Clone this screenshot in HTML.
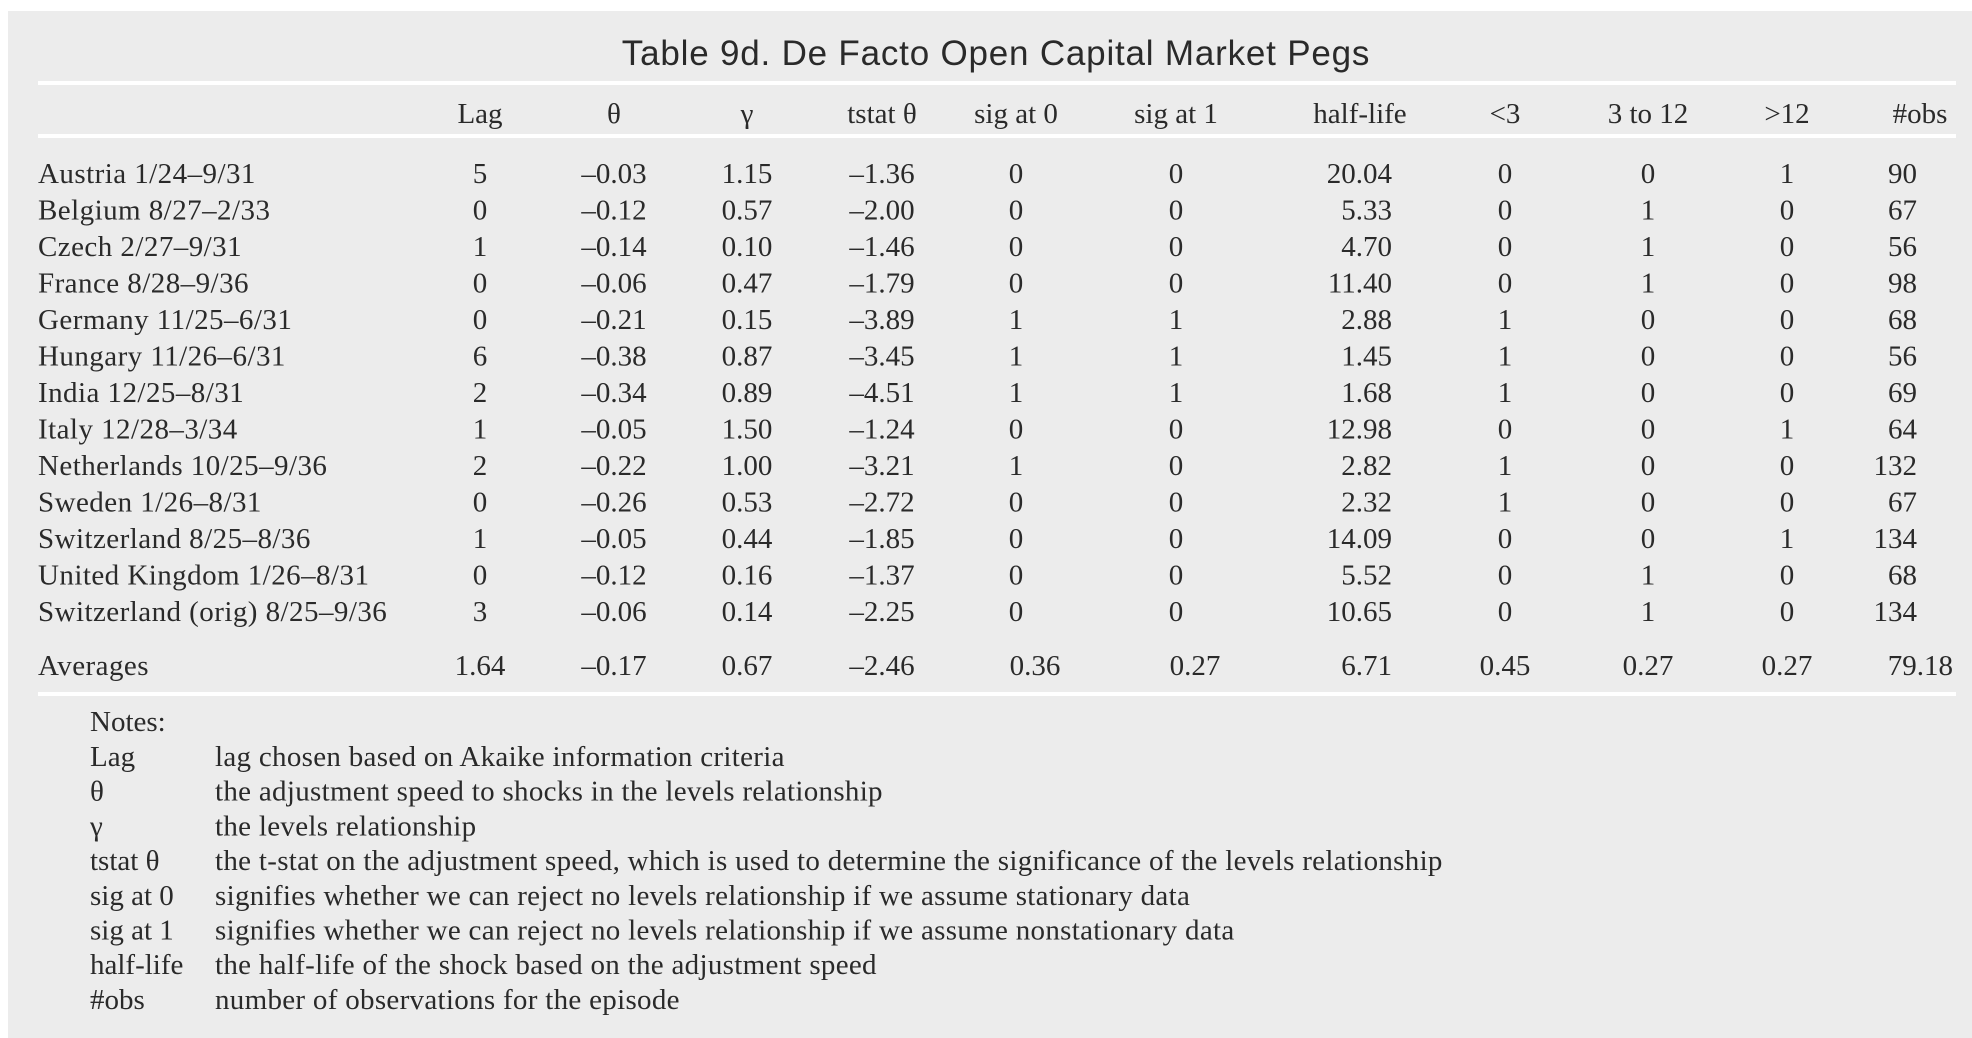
<!DOCTYPE html>
<html><head><meta charset="utf-8"><style>
html,body{margin:0;padding:0;background:#fff;}
svg{display:block;}
.s{font-family:"Liberation Serif",serif;font-size:29px;fill:#2a2a2a;}
.lab{letter-spacing:0.45px;}
.nt{letter-spacing:0.3px;}
.t{font-family:"Liberation Sans",sans-serif;font-size:35px;fill:#2a2a2a;letter-spacing:0.8px;}
</style></head><body>
<svg id="tbl" width="1972" height="1038" viewBox="0 0 1972 1038">
<rect x="8" y="11" width="1964" height="1027" fill="#ececec"/>
<text class="t" x="996" y="65" text-anchor="middle">Table 9d.  De Facto Open Capital Market Pegs</text>
<rect x="38" y="81" width="1918" height="4" fill="#fff"/>
<rect x="38" y="134" width="1918" height="4" fill="#fff"/>
<rect x="38" y="692" width="1918" height="4" fill="#fff"/>
<g id="body"></g>
</svg>
<script>
const headers=["Lag","θ","γ","tstat θ","sig at 0","sig at 1","half-life","<3","3 to 12",">12","#obs"];
const rowLabels=["Austria 1/24–9/31","Belgium 8/27–2/33","Czech 2/27–9/31","France 8/28–9/36","Germany 11/25–6/31","Hungary 11/26–6/31","India 12/25–8/31","Italy 12/28–3/34","Netherlands 10/25–9/36","Sweden 1/26–8/31","Switzerland 8/25–8/36","United Kingdom 1/26–8/31","Switzerland (orig) 8/25–9/36"];
const lag=["5","0","1","0","0","6","2","1","2","0","1","0","3"];
const theta=["–0.03","–0.12","–0.14","–0.06","–0.21","–0.38","–0.34","–0.05","–0.22","–0.26","–0.05","–0.12","–0.06"];
const gamma=["1.15","0.57","0.10","0.47","0.15","0.87","0.89","1.50","1.00","0.53","0.44","0.16","0.14"];
const tstat=["–1.36","–2.00","–1.46","–1.79","–3.89","–3.45","–4.51","–1.24","–3.21","–2.72","–1.85","–1.37","–2.25"];
const sig0=["0","0","0","0","1","1","1","0","1","0","0","0","0"];
const sig1=["0","0","0","0","1","1","1","0","0","0","0","0","0"];
const halfLife=["20.04","5.33","4.70","11.40","2.88","1.45","1.68","12.98","2.82","2.32","14.09","5.52","10.65"];
const lt3=["0","0","0","0","1","1","1","0","1","1","0","0","0"];
const mid=["0","1","1","1","0","0","0","0","0","0","0","1","1"];
const gt12=["1","0","0","0","0","0","0","1","0","0","1","0","0"];
const obs=["90","67","56","98","68","56","69","64","132","67","134","68","134"];
const averages=["1.64","–0.17","0.67","–2.46","0.36","0.27","6.71","0.45","0.27","0.27","79.18"];
const noteKeys=["Lag","θ","γ","tstat θ","sig at 0","sig at 1","half-life","#obs"];
const noteText=["lag chosen based on Akaike information criteria","the adjustment speed to shocks in the levels relationship","the levels relationship","the t-stat on the adjustment speed, which is used to determine the significance of the levels relationship","signifies whether we can reject no levels relationship if we assume stationary data","signifies whether we can reject no levels relationship if we assume nonstationary data","the half-life of the shock based on the adjustment speed","number of observations for the episode"];

const cols=[lag,theta,gamma,tstat,sig0,sig1,halfLife,lt3,mid,gt12,obs];
const colX=[480,614,747,882,1016,1176,1392,1505,1648,1787,1917];
const colAnchor=["middle","middle","middle","middle","middle","middle","end","middle","middle","middle","end"];
const headX=[480,614,747,882,1016,1176,1360,1505,1648,1787,1920];
const avgX=[480,614,747,882,1035,1195,1392,1505,1648,1787,1953];
const g=document.getElementById('body');
function txt(x,y,s,anchor,name,cls){
  const t=document.createElementNS('http://www.w3.org/2000/svg','text');
  t.setAttribute('x',x);t.setAttribute('y',y);t.setAttribute('class','s'+(cls?' '+cls:''));
  t.setAttribute('text-anchor',anchor);t.textContent=s;
  
  
  g.appendChild(t);return t;
}
const rowY=i=>183+i*36.5;
headers.forEach((h,j)=>txt(headX[j],123,h,"middle","column-header"));
rowLabels.forEach((r,i)=>{
  txt(38,rowY(i),r,"start","row-label","lab");
  cols.forEach((c,j)=>txt(colX[j],rowY(i),c[i],colAnchor[j],"table-cell"));
});
txt(38,675,"Averages","start","averages-label","lab");
averages.forEach((v,j)=>txt(avgX[j],675,v,j===6||j===10?"end":"middle","average-cell"));
txt(90,731,"Notes:","start","notes-title");
noteKeys.forEach((k,i)=>{
  txt(90,766+i*34.7,k,"start","note-key");
  txt(215,766+i*34.7,noteText[i],"start","note-text","nt");
});
</script>
</body></html>
